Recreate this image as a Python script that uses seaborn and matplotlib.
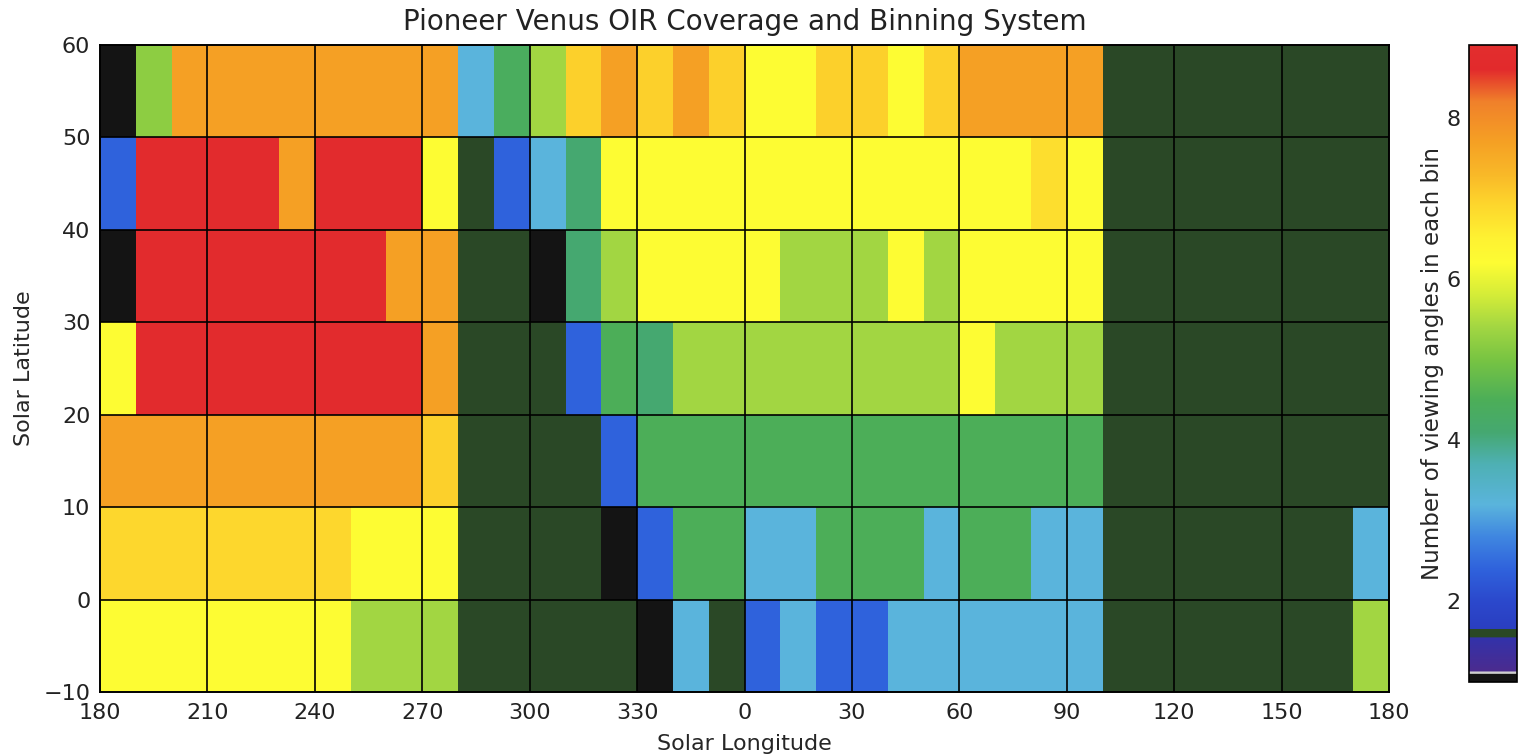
import numpy as np
import pandas as pd
import matplotlib
matplotlib.use("Agg")
import matplotlib.pyplot as plt
from matplotlib.colors import LinearSegmentedColormap
import seaborn as sns

nan = np.nan

# 10-degree longitude bins, starting at 180 and wrapping through 0
lon_bins = list(range(180, 360, 10)) + list(range(0, 180, 10))
lat_bands = ["50-60", "40-50", "30-40", "20-30", "10-20", "0-10", "-10-0"]

# axis tick labels
lon_tick_labels = [180, 210, 240, 270, 300, 330, 0, 30, 60, 90, 120, 150, 180]
lat_tick_labels = [60, 50, 40, 30, 20, 10, 0, -10]
cbar_ticks = [2, 4, 6, 8]

# number of viewing angles per bin (nan = no coverage)
lat_50_60 = [1.0, 5.2, 7.7, 7.7, 7.7, 7.7, 7.7, 7.7, 7.7, 7.7, 3.2, 4.4, 5.4, 7.0, 7.7, 7.0, 7.7, 7.0,
             6.2, 6.2, 7.0, 7.0, 6.2, 7.0, 7.7, 7.7, 7.7, 7.7, nan, nan, nan, nan, nan, nan, nan, nan]
lat_40_50 = [2.4, 8.7, 8.7, 8.7, 8.7, 7.7, 8.7, 8.7, 8.7, 6.2, nan, 2.4, 3.2, 4.1, 6.2, 6.2, 6.2, 6.2,
             6.2, 6.2, 6.2, 6.2, 6.2, 6.2, 6.2, 6.2, 6.8, 6.2, nan, nan, nan, nan, nan, nan, nan, nan]
lat_30_40 = [1.0, 8.7, 8.7, 8.7, 8.7, 8.7, 8.7, 8.7, 7.7, 7.7, nan, nan, 1.0, 4.1, 5.4, 6.2, 6.2, 6.2,
             6.2, 5.4, 5.4, 5.4, 6.2, 5.4, 6.2, 6.2, 6.2, 6.2, nan, nan, nan, nan, nan, nan, nan, nan]
lat_20_30 = [6.2, 8.7, 8.7, 8.7, 8.7, 8.7, 8.7, 8.7, 8.7, 7.7, nan, nan, nan, 2.4, 4.5, 4.1, 5.4, 5.4,
             5.4, 5.4, 5.4, 5.4, 5.4, 5.4, 6.2, 5.4, 5.4, 5.4, nan, nan, nan, nan, nan, nan, nan, nan]
lat_10_20 = [7.7, 7.7, 7.7, 7.7, 7.7, 7.7, 7.7, 7.7, 7.7, 7.0, nan, nan, nan, nan, 2.4, 4.5, 4.5, 4.5,
             4.5, 4.5, 4.5, 4.5, 4.5, 4.5, 4.5, 4.5, 4.5, 4.5, nan, nan, nan, nan, nan, nan, nan, nan]
lat_0_10 = [6.9, 6.9, 6.9, 6.9, 6.9, 6.9, 6.9, 6.2, 6.2, 6.2, nan, nan, nan, nan, 1.0, 2.4, 4.5, 4.5,
            3.2, 3.2, 4.5, 4.5, 4.5, 3.2, 4.5, 4.5, 3.2, 3.2, nan, nan, nan, nan, nan, nan, nan, 3.2]
lat_m10_0 = [6.2, 6.2, 6.2, 6.2, 6.2, 6.2, 6.2, 5.4, 5.4, 5.4, nan, nan, nan, nan, nan, 1.0, 3.2, nan,
             2.4, 3.2, 2.4, 2.4, 3.2, 3.2, 3.2, 3.2, 3.2, 3.2, nan, nan, nan, nan, nan, nan, nan, 5.4]

coverage = pd.DataFrame(
    [lat_50_60, lat_40_50, lat_30_40, lat_20_30, lat_10_20, lat_0_10, lat_m10_0],
    index=lat_bands, columns=lon_bins,
)

VMIN, VMAX = 1.0, 8.9
no_data_color = "#2a4826"

# colour table: black floor, violet, reserved dark-green index, then blue -> red
anchors = [
    (1.00, "#141414"), (1.10, "#141414"), (1.105, "#cfcfcf"), (1.125, "#cfcfcf"),
    (1.13, "#4b2b8e"), (1.55, "#3232aa"), (1.555, no_data_color), (1.65, no_data_color),
    (1.655, "#2a3ec0"), (2.0, "#2b48cc"), (2.4, "#2f62dc"), (2.8, "#3f86e0"),
    (3.2, "#5ab4dc"), (3.7, "#4eb0b4"), (4.1, "#45a870"), (4.5, "#4cae58"),
    (5.0, "#78c442"), (5.4, "#a2d642"), (5.8, "#d4ec38"), (6.2, "#fdfc33"),
    (6.5, "#fef232"), (6.95, "#fdd42c"), (7.3, "#f8b828"), (7.7, "#f5a024"),
    (8.2, "#f0802a"), (8.6, "#e22a2c"), (8.9, "#e22e2e"),
]
cmap = LinearSegmentedColormap.from_list(
    "oir", [((v - VMIN) / (VMAX - VMIN), c) for v, c in anchors], N=2048
)
cmap.set_bad(no_data_color)

sns.set_theme(style="white")
plt.rcParams["font.family"] = ["DejaVu Sans"]
plt.rcParams["text.color"] = "#222222"

fig = plt.figure(figsize=(15.23, 7.55), dpi=100)
ax = fig.add_axes([0.0657, 0.0834, 0.8463, 0.857])
cax = fig.add_axes([0.9645, 0.0967, 0.0315, 0.8437])

sns.heatmap(coverage, ax=ax, cbar_ax=cax, cmap=cmap, vmin=VMIN, vmax=VMAX,
            xticklabels=False, yticklabels=False)
ax.set_facecolor(no_data_color)

n_rows, n_cols = coverage.shape
xt = np.arange(0, n_cols + 1, 3)
yt = np.arange(0, n_rows + 1)
ax.set_xticks(xt)
ax.set_xticklabels([str(v) for v in lon_tick_labels])
ax.set_yticks(yt)
ax.set_yticklabels([str(v).replace("-", "\u2212") for v in lat_tick_labels])
ax.tick_params(axis="both", length=0, labelsize=16, colors="#222222")
ax.tick_params(axis="x", pad=8)
ax.tick_params(axis="y", pad=7)

for x in xt[1:-1]:
    ax.axvline(x, color="black", lw=1.2)
for y in yt[1:-1]:
    ax.axhline(y, color="black", lw=1.2)
for s in ax.spines.values():
    s.set_visible(True)
    s.set_color("black")
    s.set_linewidth(1.4)

ax.set_xlabel("Solar Longitude", fontsize=16, labelpad=8)
ax.set_ylabel("Solar Latitude", fontsize=16, labelpad=7)
ax.set_title("Pioneer Venus OIR Coverage and Binning System", fontsize=20, pad=11)

cbar = ax.collections[0].colorbar
cbar.set_ticks(cbar_ticks)
cbar.ax.yaxis.set_ticks_position("left")
cbar.ax.yaxis.set_label_position("left")
cbar.ax.tick_params(length=0, labelsize=16, pad=6, colors="#222222")
cbar.outline.set_visible(True)
cbar.outline.set_edgecolor("black")
cbar.outline.set_linewidth(1.2)
cbar.set_label("Number of viewing angles in each bin", fontsize=16.5, labelpad=2)

fig.savefig("out.png", dpi=100)
